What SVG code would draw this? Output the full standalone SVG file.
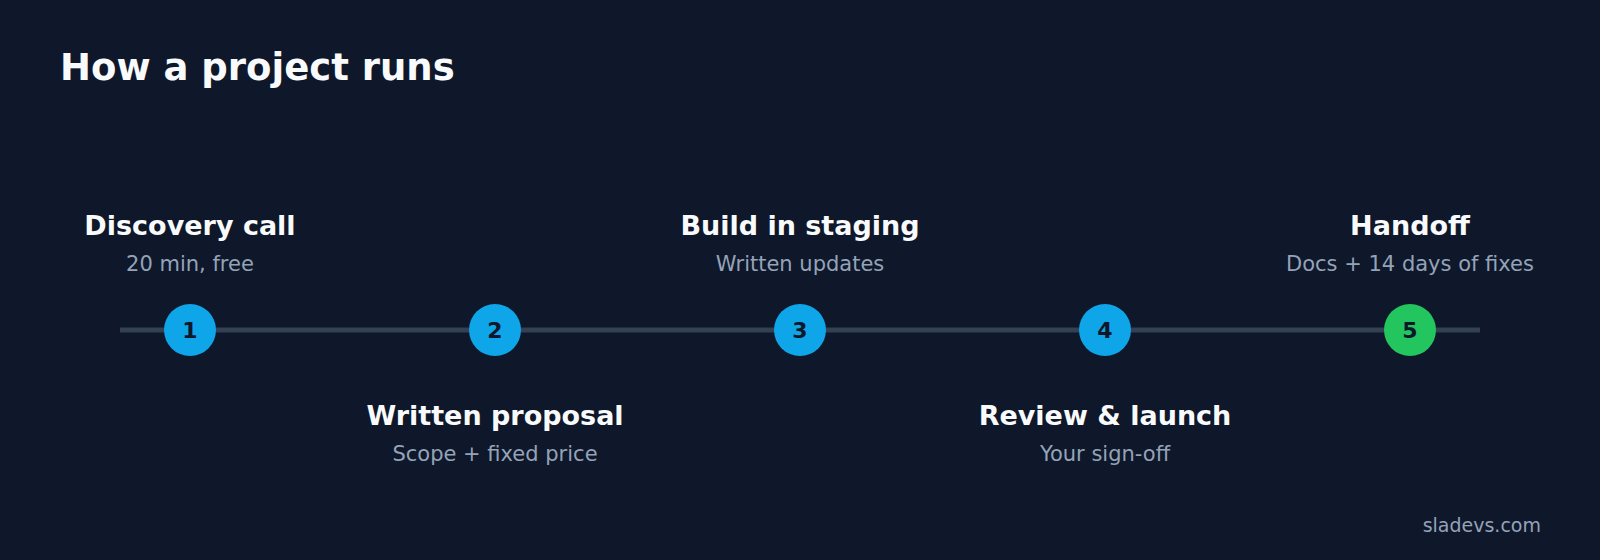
<svg xmlns="http://www.w3.org/2000/svg" width="1600" height="560" viewBox="0 0 1600 560">
<style>
text{font-family:"DejaVu Sans",sans-serif}
.t{fill:#f8fafc;font-size:27px;font-weight:bold;text-anchor:middle}
.s{fill:#94a3b8;font-size:21px;text-anchor:middle}
.n{fill:#0f172a;font-size:22px;font-weight:bold;text-anchor:middle}
.c{fill:#0ea5e9}
</style>
<rect width="1600" height="560" fill="#0f172a"/>
<text x="60" y="80" fill="#f8fafc" font-size="37" font-weight="bold">How a project runs</text>
<g id="connectors"><line x1="120" y1="330" x2="1480" y2="330" stroke="#334155" stroke-width="5"/></g>
<g id="step1"><circle class="c" cx="190" cy="330" r="26"/><text class="n" x="190" y="338">1</text><text class="t" x="190" y="235">Discovery call</text><text class="s" x="190" y="271">20 min, free</text></g>
<g id="step2"><circle class="c" cx="495" cy="330" r="26"/><text class="n" x="495" y="338">2</text><text class="t" x="495" y="425">Written proposal</text><text class="s" x="495" y="461">Scope + fixed price</text></g>
<g id="step3"><circle class="c" cx="800" cy="330" r="26"/><text class="n" x="800" y="338">3</text><text class="t" x="800" y="235">Build in staging</text><text class="s" x="800" y="271">Written updates</text></g>
<g id="step4"><circle class="c" cx="1105" cy="330" r="26"/><text class="n" x="1105" y="338">4</text><text class="t" x="1105" y="425">Review &amp; launch</text><text class="s" x="1105" y="461">Your sign-off</text></g>
<g id="step5"><circle cx="1410" cy="330" r="26" fill="#22c55e"/><text class="n" x="1410" y="338">5</text><text class="t" x="1410" y="235">Handoff</text><text class="s" x="1410" y="271">Docs + 14 days of fixes</text></g>
<text x="1541" y="532" fill="#94a3b8" font-size="19" text-anchor="end">sladevs.com</text>
</svg>
